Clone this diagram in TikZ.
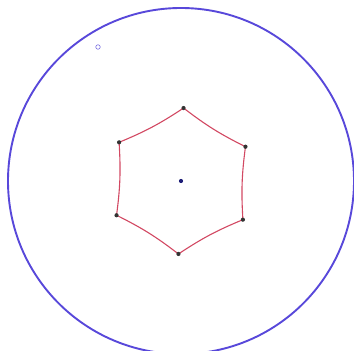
\documentclass[tikz,border=0pt]{standalone}
\begin{document}
\begin{tikzpicture}[x=1pt,y=1pt,
  disk/.style={draw=diskblue,line width=1.9pt},
  edge/.style={draw=hexred,line width=1.1pt},
  vdot/.style={circle,fill=black!80,inner sep=0pt,minimum size=4.2pt},
  cdot/.style={circle,fill=cdotblue,inner sep=0pt,minimum size=4.2pt},
  ptmark/.style={circle,draw=diskblue!80,line width=0.6pt,inner sep=0pt,minimum size=4.5pt}]
\definecolor{diskblue}{RGB}{88,72,218}
\definecolor{hexred}{RGB}{210,72,98}
\definecolor{cdotblue}{RGB}{30,30,120}
\useasboundingbox (0,0) rectangle (354,351);
\clip (0,0) rectangle (354,351);
\coordinate (O) at (181,170);
\draw[disk] (O) circle (173);
\foreach \i/\a in {1/88,2/28,3/-32,4/-92,5/-152,6/-212}{
  \path (O) ++(\a:73) coordinate (v\i);
}
\draw[edge] (v1) to[bend left=5.5] (v6) to[bend left=5.5] (v5) to[bend left=5.5] (v4)
  to[bend left=5.5] (v3) to[bend left=5.5] (v2) to[bend left=5.5] (v1);
\foreach \i in {1,...,6}{ \node[vdot] (d\i) at (v\i) {}; }
\node[cdot] (c) at (O) {};
\node[ptmark] (p) at (98,304) {};
\end{tikzpicture}
\end{document}
